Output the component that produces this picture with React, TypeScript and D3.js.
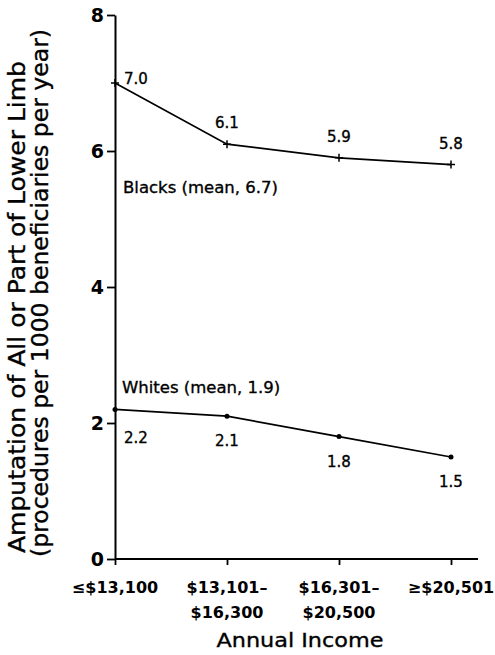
import React, { useEffect, useRef } from "react";
import * as d3 from "d3";

const categories = ["≤$13,100", "$13,101–$16,300", "$16,301–$20,500", "≥$20,501"];
const categoryLines = [["≤$13,100"], ["$13,101–", "$16,300"], ["$16,301–", "$20,500"], ["≥$20,501"]];
const blacks = [7.0, 6.1, 5.9, 5.8];
const whites = [2.2, 2.1, 1.8, 1.5];
const blacksLabel = "Blacks (mean, 6.7)";
const whitesLabel = "Whites (mean, 1.9)";
const yTicks = [0, 2, 4, 6, 8];
const yTitle1 = "Amputation of All or Part of Lower Limb";
const yTitle2 = "(procedures per 1000 beneficiaries per year)";
const xTitle = "Annual Income";

const W = 495;
const H = 655;
const FONT = "'DejaVu Sans', 'Liberation Sans', Arial, sans-serif";

export default function App() {
  const ref = useRef<SVGSVGElement>(null);

  useEffect(() => {
    const svg = d3.select(ref.current);
    svg.selectAll("*").remove();

    const x = d3.scalePoint<string>().domain(categories).range([115, 451]);
    const y = d3.scaleLinear().domain([0, 8]).range([559, 15]);

    const g = svg.append("g");
    const heavy = (sel: any) => sel.attr("stroke", "#000").attr("stroke-width", 0.35);

    // Y axis
    const yAxis = g.append("g").attr("transform", `translate(${x(categories[0])},0)`)
      .call(d3.axisLeft(y).tickValues(yTicks).tickSize(8).tickSizeOuter(0).tickFormat(d3.format("d")));
    yAxis.select(".domain").attr("stroke", "#000").attr("stroke-width", 2);
    yAxis.selectAll(".tick line").attr("stroke", "#000").attr("stroke-width", 1.8);
    yAxis.selectAll(".tick text")
      .attr("font-family", FONT).attr("font-size", 19).attr("font-weight", "bold")
      .attr("fill", "#000").attr("x", -11).attr("dy", "0.36em");

    // X axis
    const xAxis = g.append("g").attr("transform", `translate(0,${y(0)})`)
      .call(d3.axisBottom(x).tickSize(6).tickSizeOuter(0).tickFormat(() => ""));
    xAxis.select(".domain").remove();
    xAxis.selectAll(".tick line").attr("stroke", "#000").attr("stroke-width", 1.8);
    g.append("line")
      .attr("x1", x(categories[0])!).attr("x2", 478)
      .attr("y1", y(0)).attr("y2", y(0))
      .attr("stroke", "#000").attr("stroke-width", 2);

    categories.forEach((c, i) => {
      const t = g.append("text")
        .attr("x", x(c)!).attr("y", 593)
        .attr("text-anchor", "middle")
        .attr("font-family", FONT).attr("font-size", 16).attr("font-weight", "bold")
        .attr("fill", "#000");
      categoryLines[i].forEach((ln, j) => {
        t.append("tspan").attr("x", x(c)!).attr("y", 593 + j * 25).text(ln);
      });
    });

    g.append("text")
      .attr("x", 300).attr("y", 647).attr("text-anchor", "middle")
      .attr("font-family", FONT).attr("font-size", 20)
      .attr("textLength", 167).attr("lengthAdjust", "spacingAndGlyphs")
      .attr("fill", "#000").call(heavy).text(xTitle);

    g.append("text")
      .attr("transform", `translate(25,307) rotate(-90)`)
      .attr("text-anchor", "middle")
      .attr("font-family", FONT).attr("font-size", 23)
      .attr("textLength", 492).attr("lengthAdjust", "spacingAndGlyphs")
      .attr("fill", "#000").call(heavy).text(yTitle1);
    g.append("text")
      .attr("transform", `translate(48,293) rotate(-90)`)
      .attr("text-anchor", "middle")
      .attr("font-family", FONT).attr("font-size", 23)
      .attr("textLength", 528).attr("lengthAdjust", "spacingAndGlyphs")
      .attr("fill", "#000").call(heavy).text(yTitle2);

    const line = d3.line<number>()
      .x((_, i) => x(categories[i])!)
      .y((d) => y(d));

    // Blacks
    g.append("path").datum(blacks).attr("d", line)
      .attr("fill", "none").attr("stroke", "#000").attr("stroke-width", 1.7);
    blacks.forEach((v, i) => {
      const cx = x(categories[i])!;
      const cy = y(v);
      g.append("path").attr("d", `M${cx - 4},${cy}H${cx + 4}M${cx},${cy - 4}V${cy + 4}`)
        .attr("stroke", "#000").attr("stroke-width", 1.5);
      const first = i === 0;
      g.append("text")
        .attr("x", first ? cx + 9 : cx).attr("y", first ? cy + 1 : cy - 16)
        .attr("text-anchor", first ? "start" : "middle")
        .attr("font-family", FONT).attr("font-size", 15).attr("fill", "#000")
        .call(heavy)
        .text(v.toFixed(1));
    });
    g.append("text")
      .attr("x", x(categories[0])! + 8).attr("y", y(blacks[0]) + 110)
      .attr("font-family", FONT).attr("font-size", 16.5).attr("fill", "#000")
      .call(heavy)
      .text(blacksLabel);

    // Whites
    g.append("path").datum(whites).attr("d", line)
      .attr("fill", "none").attr("stroke", "#000").attr("stroke-width", 1.7);
    whites.forEach((v, i) => {
      const cx = x(categories[i])!;
      const cy = y(v);
      g.append("circle").attr("cx", cx).attr("cy", cy).attr("r", 2.5).attr("fill", "#000");
      const first = i === 0;
      g.append("text")
        .attr("x", first ? cx + 9 : cx).attr("y", first ? cy + 34 : cy + 30)
        .attr("text-anchor", first ? "start" : "middle")
        .attr("font-family", FONT).attr("font-size", 15).attr("fill", "#000")
        .call(heavy)
        .text(v.toFixed(1));
    });
    g.append("text")
      .attr("x", x(categories[0])! + 7).attr("y", y(whites[0]) - 16)
      .attr("font-family", FONT).attr("font-size", 16.5).attr("fill", "#000")
      .call(heavy)
      .text(whitesLabel);
  }, []);

  return (
    <svg
      ref={ref}
      width={W}
      height={H}
      style={{ position: "absolute", left: 0, top: 0, background: "#fff" }}
    />
  );
}
